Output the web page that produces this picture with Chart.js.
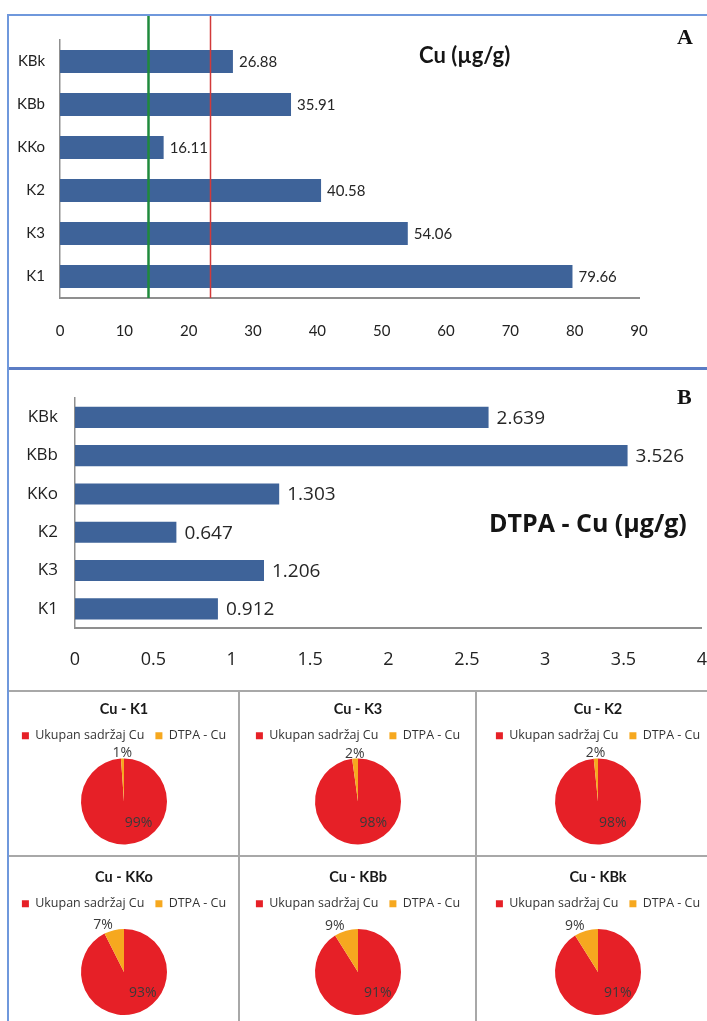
<!DOCTYPE html>
<html>
<head>
<meta charset="utf-8">
<script src="https://cdn.jsdelivr.net/npm/chart.js@4.4.1/dist/chart.umd.min.js"></script>
<style>
  html, body { margin: 0; padding: 0; background: #fff; }
  body { width: 707px; height: 1021px; position: relative; overflow: hidden; }
  .box { position: absolute; }
  .box canvas { display: block; }
  .rule { position: absolute; }
  .tag { position: absolute; font-family: 'Liberation Serif', serif; font-weight: bold; font-size: 22px; line-height: 22px; color: #111; }
  .ttl { position: absolute; font-weight: bold; color: #151515; white-space: nowrap; }
</style>
</head>
<body>

<!-- frames -->
<div class="rule" style="left:7px;top:14px;width:700px;height:2px;background:#6f98dc"></div>
<div class="rule" style="left:7px;top:14px;width:2px;height:1007px;background:#6f98dc"></div>
<div class="rule" style="left:9px;top:367px;width:698px;height:3px;background:#5b7cc4"></div>
<div class="rule" style="left:9px;top:690px;width:698px;height:2px;background:#a8a8a8"></div>
<div class="rule" style="left:9px;top:855px;width:698px;height:2px;background:#a8a8a8"></div>
<div class="rule" style="left:238px;top:690px;width:2px;height:331px;background:#a8a8a8"></div>
<div class="rule" style="left:475px;top:690px;width:2px;height:331px;background:#a8a8a8"></div>

<div class="box" style="left:8px;top:16px;width:699px;height:352px"><canvas id="cuChart"></canvas></div>
<div class="box" style="left:8px;top:371px;width:720px;height:319px"><canvas id="dtpaChart"></canvas></div>

<div class="ttl" style="left:419px;top:42px;font-family:Lato;font-size:22px;line-height:26px">Cu (µg/g)</div>
<div class="tag" style="left:677px;top:26px">A</div>
<div class="tag" style="left:677px;top:386px">B</div>
<div class="ttl" style="left:489px;top:506px;font-family:'Open Sans';font-size:25px;line-height:32px">DTPA - Cu (µg/g)</div>

<div id="pies"></div>

<script>
// sampling sites, same order as the pie grid (left to right, top to bottom)
const sites = ['K1', 'K3', 'K2', 'KKo', 'KBb', 'KBk'];
// total Cu content, µg/g
const totalCu = [79.66, 54.06, 40.58, 16.11, 35.91, 26.88];
// DTPA-extractable Cu, µg/g
const dtpaCu = [0.912, 1.206, 0.647, 1.303, 3.526, 2.639];
// reference levels marked on the total Cu chart
const refLevels = [13.7, 23.3];
const refColors = ['#1f8a3c', '#d23a3a'];
// pie legend entries
const pieParts = ['Ukupan sadržaj Cu', 'DTPA - Cu'];
const pieColors = ['#e62027', '#f6a81f'];

const barColor = '#3e6399';
const axisColor = '#8f8f8f';

// prints the value at the end of every bar
const valueLabels = {
  id: 'valueLabels',
  afterDatasetsDraw(chart, args, opts) {
    const { ctx } = chart;
    const meta = chart.getDatasetMeta(0);
    const data = chart.data.datasets[0].data;
    ctx.save();
    ctx.font = opts.font;
    ctx.fillStyle = '#262626';
    ctx.textAlign = 'left';
    ctx.textBaseline = 'middle';
    meta.data.forEach((bar, i) => {
      ctx.fillText(data[i].toFixed(opts.decimals), bar.x + opts.gap, bar.y + 1);
    });
    ctx.restore();
  }
};

// vertical reference lines, from the top of the frame down to the axis
const refLines = {
  id: 'refLines',
  afterDatasetsDraw(chart, args, opts) {
    if (!opts.values) return;
    const { ctx, chartArea } = chart;
    const xs = chart.scales.x;
    ctx.save();
    opts.values.forEach((v, i) => {
      const px = Math.round(xs.getPixelForValue(v)) + 0.5;
      ctx.strokeStyle = opts.colors[i];
      ctx.lineWidth = opts.widths[i];
      ctx.beginPath();
      ctx.moveTo(px, 0);
      ctx.lineTo(px, chartArea.bottom);
      ctx.stroke();
    });
    ctx.restore();
  }
};

function barChart(id, values, cfg) {
  new Chart(document.getElementById(id), {
    type: 'bar',
    data: {
      labels: sites,
      datasets: [{
        data: values,
        backgroundColor: barColor,
        borderWidth: 0,
        categoryPercentage: 1,
        barPercentage: cfg.barPct
      }]
    },
    options: {
      indexAxis: 'y',
      responsive: true,
      maintainAspectRatio: false,
      animation: false,
      layout: { padding: cfg.padding },
      scales: {
        x: {
          min: 0,
          max: cfg.max,
          ticks: {
            stepSize: cfg.step, padding: cfg.xPad, color: '#222', font: cfg.tickFont,
            callback: (v) => String(v)
          },
          grid: { display: false, drawTicks: false },
          border: { display: true, color: axisColor, width: 2 },
          afterFit(s) { s.height = cfg.xHeight; }
        },
        y: {
          reverse: true,
          ticks: { padding: cfg.yPad, color: '#222', font: cfg.catFont },
          grid: { display: false, drawTicks: false },
          border: { display: true, color: axisColor, width: 1.5 },
          afterFit(s) { s.width = cfg.yWidth; }
        }
      },
      plugins: {
        legend: { display: false },
        tooltip: { enabled: false },
        valueLabels: { font: cfg.valueFont, decimals: cfg.decimals, gap: cfg.gap },
        refLines: cfg.refLines || {}
      }
    },
    plugins: [refLines, valueLabels]
  });
}

barChart('cuChart', totalCu, {
  max: 90, step: 10, barPct: 0.54,
  padding: { top: 14, right: 68, bottom: 0, left: 0 },
  xHeight: 70, yWidth: 52, xPad: 24, yPad: 15,
  tickFont: { family: 'Lato', size: 15 },
  catFont: { family: 'Lato', size: 15 },
  valueFont: '15px Lato', decimals: 2, gap: 6,
  refLines: { values: refLevels, colors: refColors, widths: [2.5, 1.5] }
});

barChart('dtpaChart', dtpaCu, {
  max: 4, step: 0.5, barPct: 0.55,
  padding: { top: 15, right: 26, bottom: 0, left: 0 },
  xHeight: 62, yWidth: 67, xPad: 21, yPad: 17,
  tickFont: { family: 'Open Sans', size: 18 },
  catFont: { family: 'Open Sans', size: 17 },
  valueFont: '19px "Open Sans"', decimals: 3, gap: 8
});

// percentage labels on the pies: small share outside, large share inside
const pctLabels = {
  id: 'pctLabels',
  afterDatasetsDraw(chart) {
    const { ctx } = chart;
    const meta = chart.getDatasetMeta(0);
    const vals = chart.data.datasets[0].data;
    const total = vals.reduce((a, b) => a + b, 0);
    ctx.save();
    ctx.font = '14px "Open Sans"';
    ctx.fillStyle = '#3a3a3a';
    ctx.textBaseline = 'middle';
    meta.data.forEach((arc, i) => {
      const p = arc.getProps(['x', 'y', 'startAngle', 'endAngle', 'outerRadius'], true);
      const mid = (p.startAngle + p.endAngle) / 2;
      const txt = Math.round(vals[i] / total * 100) + '%';
      if (i === 0) {
        const r = p.outerRadius * 0.5;
        ctx.textAlign = 'left';
        ctx.fillText(txt, p.x + Math.cos(mid) * r, p.y + Math.sin(mid) * r);
      } else {
        const r = p.outerRadius + 5;
        ctx.textAlign = Math.cos(mid) < -0.1 ? 'right' : 'center';
        ctx.fillText(txt, p.x + Math.cos(mid) * r, p.y + Math.sin(mid) * r);
      }
    });
    ctx.restore();
  }
};

const colLeft = [9, 240, 477];
const colWidth = [230, 236, 242];
const rowTop = [692, 860];
const rowHeight = [163, 168];
const holder = document.getElementById('pies');

sites.forEach((site, i) => {
  const row = Math.floor(i / 3), col = i % 3;
  const box = document.createElement('div');
  box.className = 'box';
  box.style.cssText = `left:${colLeft[col]}px;top:${rowTop[row]}px;width:${colWidth[col]}px;height:${rowHeight[row]}px`;
  const cv = document.createElement('canvas');
  box.appendChild(cv);
  holder.appendChild(box);

  new Chart(cv, {
    type: 'pie',
    data: {
      labels: pieParts,
      datasets: [{
        data: [totalCu[i], dtpaCu[i]],
        backgroundColor: pieColors,
        borderWidth: 0,
        radius: 43
      }]
    },
    options: {
      responsive: true,
      maintainAspectRatio: false,
      animation: false,
      layout: { padding: { bottom: 4 } },
      plugins: {
        title: {
          display: true,
          text: 'Cu - ' + site,
          color: '#1a1a1a',
          font: { family: 'Lato', size: 14.5, weight: 'bold' },
          padding: { top: 9, bottom: 0 }
        },
        legend: {
          position: 'top',
          labels: {
            boxWidth: 7, boxHeight: 7, padding: 11, color: '#333',
            font: { family: 'Open Sans', size: 12.5 }
          }
        },
        tooltip: { enabled: false }
      }
    },
    plugins: [pctLabels]
  });
});
</script>
</body>
</html>
